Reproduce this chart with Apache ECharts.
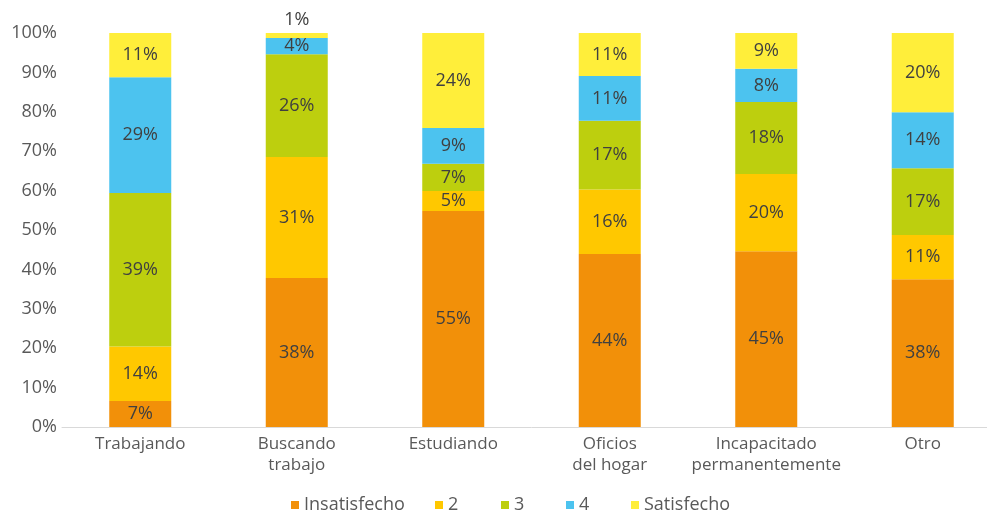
<!DOCTYPE html>
<html>
<head>
<meta charset="utf-8">
<script src="https://cdn.jsdelivr.net/npm/echarts@6/dist/echarts.min.js"></script>
<style>html,body{margin:0;padding:0;background:#fff;overflow:hidden;width:987px;height:512px;}#c{width:1001px;height:512px;}</style>
</head>
<body>
<div id="c"></div>
<script>
var categories = ['Trabajando', 'Buscando\ntrabajo', 'Estudiando', 'Oficios\ndel hogar', 'Incapacitado\npermanentemente', 'Otro'];
var seriesNames = ['Insatisfecho', '2', '3', '4', 'Satisfecho'];
var insatisfecho = [6.6, 37.8, 54.8, 43.9, 44.6, 37.5];
var dos = [13.8, 30.7, 5.1, 16.4, 19.6, 11.2];
var tres = [39.0, 26.1, 6.9, 17.4, 18.3, 17.0];
var cuatro = [29.4, 4.1, 9.1, 11.4, 8.4, 14.2];
var satisfecho = [11.2, 1.3, 24.1, 10.9, 9.1, 20.1];
var yTicks = [0, 10, 20, 30, 40, 50, 60, 70, 80, 90, 100];

var colors = ['#F29009', '#FFC800', '#BDCF0E', '#4CC3EF', '#FFEE3A'];
var FONT = 'Open Sans';
var values = [insatisfecho, dos, tres, cuatro, satisfecho];
var legendLefts = [286, 430, 496, 561, 626];

var chart = echarts.init(document.getElementById('c'), null, {renderer: 'canvas'});
var series = seriesNames.map(function (name, s) {
  return {
    name: name,
    type: 'bar',
    stack: 'total',
    barWidth: 62,
    itemStyle: {color: colors[s]},
    label: {
      show: true,
      position: 'inside',
      color: '#404040',
      fontFamily: FONT,
      fontSize: 18,
      formatter: function (p) { return Math.round(p.value) + '%'; }
    },
    data: values[s].map(function (v) {
      if (v < 3) {
        return {value: v, label: {position: 'top', distance: 4}};
      }
      return v;
    })
  };
});

var legends = seriesNames.map(function (n, i) {
  return {
    left: legendLefts[i],
    top: 491,
    icon: 'rect',
    itemWidth: 8,
    itemHeight: 8,
    textStyle: {color: '#595959', fontFamily: FONT, fontSize: 18},
    data: [n]
  };
});

chart.setOption({
  animation: false,
  grid: {left: 62, right: 0, top: 33, bottom: 85, containLabel: false},
  legend: legends,
  xAxis: {
    type: 'category',
    data: categories,
    axisLine: {lineStyle: {color: '#D9D9D9', width: 1}},
    axisTick: {show: false},
    axisLabel: {color: '#595959', fontFamily: FONT, fontSize: 17, lineHeight: 21, margin: 7, interval: 0}
  },
  yAxis: {
    type: 'value',
    min: yTicks[0],
    max: yTicks[yTicks.length - 1],
    interval: yTicks[1] - yTicks[0],
    splitLine: {show: false},
    axisLine: {show: false},
    axisTick: {show: false},
    axisLabel: {color: '#595959', fontFamily: FONT, fontSize: 18, margin: 5, formatter: '{value}%'}
  },
  series: series
});
</script>
</body>
</html>
